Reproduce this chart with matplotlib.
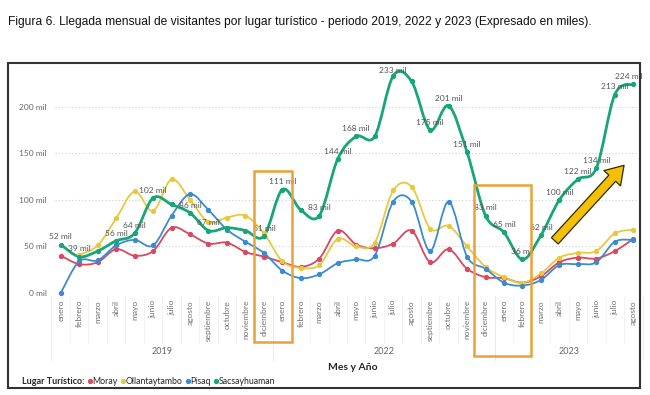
import numpy as np
import matplotlib.pyplot as plt
from matplotlib.path import Path
from matplotlib.patches import PathPatch, Rectangle, FancyArrowPatch
from matplotlib.lines import Line2D
import matplotlib.transforms as mtransforms

plt.rcParams['font.family'] = ['Lato', 'DejaVu Sans']

# datos (miles de visitantes)
meses = ["enero", "febrero", "marzo", "abril", "mayo", "junio", "julio",
         "agosto", "septiembre", "octubre", "noviembre", "diciembre"]
x_labels = meses + meses + meses[:8]
years = ["2019", "2022", "2023"]
year_len = [12, 12, 8]

moray = [40, 31, 33, 47, 40, 45, 70, 63, 53, 54, 44, 39,
         33, 28, 37, 67, 52, 48, 53, 67, 33, 47, 26, 17,
         16, 11, 18, 33, 38, 37, 45, 58]
ollantaytambo = [np.nan, 41, 51, 80, 109, 88, 122, 100, 76, 81, 83, 64,
                 34, 27, 30, 58, 50, 54, 110, 114, 69, 72, 50, 28,
                 17, 11, 21, 38, 43, 45, 64, 68]
pisaq = [0, 34, 35, 51, 57, 51, 83, 106, 89, 68, 55, 43,
         24, 16, 20, 32, 36, 40, 98, 98, 45, 98, 39, 26,
         11, 8, 14, 30, 31, 33, 55, 57]
sacsayhuaman = [52, 39, 45, 56, 64, 102, 95, 86, 67, 70, 67, 61,
                111, 89, 83, 144, 168, 168, 233, 227, 175, 201, 151, 83,
                65, 36, 62, 100, 122, 134, 213, 224]
labeled = [0, 1, 3, 4, 5, 7, 8, 11, 12, 14, 15, 16, 18, 20, 21, 22, 23,
           24, 25, 26, 27, 28, 29, 30, 31]

series = [("Moray", moray, "#D9485F", 1.3),
          ("Ollantaytambo", ollantaytambo, "#E8C840", 1.3),
          ("Pisaq", pisaq, "#3B8BD0", 1.3),
          ("Sacsayhuaman", sacsayhuaman, "#17A57A", 2.0)]


def smooth_path(xs, ys):
    pts = np.column_stack([xs, ys])
    n = len(pts)
    verts = [pts[0]]
    codes = [Path.MOVETO]
    for i in range(n - 1):
        p0 = pts[max(i - 1, 0)]
        p1 = pts[i]
        p2 = pts[i + 1]
        p3 = pts[min(i + 2, n - 1)]
        verts += [p1 + (p2 - p0) / 6, p2 - (p3 - p1) / 6, p2]
        codes += [Path.CURVE4] * 3
    return Path(verts, codes)


W, H = 650, 395
fig = plt.figure(figsize=(W / 100, H / 100), dpi=100)
ax_l, ax_r, ax_b, ax_t = 55, 637, 293, 74
ax = fig.add_axes([ax_l / W, 1 - ax_b / H, (ax_r - ax_l) / W, (ax_b - ax_t) / H])


def ay(py):
    # pixel row -> axes fraction
    return (ax_b - py) / (ax_b - ax_t)


x = np.arange(len(x_labels))
ax.set_xlim(-0.31, 31.2)
ax.set_ylim(0, 235)

for name, vals, col, lw in series:
    v = np.array(vals, dtype=float)
    ok = ~np.isnan(v)
    ax.add_patch(PathPatch(smooth_path(x[ok], v[ok]), fill=False, ec=col,
                           lw=lw, clip_on=False, zorder=3 if lw < 2 else 4))
    ax.plot(x[ok], v[ok], ls="none", marker="o", ms=2.8, color=col,
            clip_on=False, zorder=5)

for i in labeled:
    dy = 1 if i == 18 else 3
    dx = -3 if i == 31 else 0
    ax.annotate(f"{sacsayhuaman[i]} mil", (x[i], sacsayhuaman[i]),
                xytext=(dx, dy), textcoords="offset points", ha="center",
                va="bottom", fontsize=6, color="#555555", zorder=6,
                annotation_clip=False)

# ejes
for s in ax.spines.values():
    s.set_visible(False)
ax.set_yticks([0, 50, 100, 150, 200])
ax.set_yticklabels([f"{t} mil" for t in [0, 50, 100, 150, 200]])
ax.yaxis.grid(True, ls=(0, (1, 2)), color="#d0d0d0", lw=0.8)
ax.set_axisbelow(True)
ax.tick_params(axis="y", length=0, labelsize=6, labelcolor="#666666", pad=6)
ax.set_xticks(x)
ax.set_xticklabels(x_labels, rotation=90, fontsize=6, color="#707070")
ax.tick_params(axis="x", length=0, pad=5)

trans = mtransforms.blended_transform_factory(ax.transData, ax.transAxes)
for i in range(len(x) - 1):
    ax.plot([i + 0.5, i + 0.5], [ay(296), ay(343)], transform=trans,
            color="#f0f0f0", lw=0.6, clip_on=False)
start = 0
for yr, n in zip(years, year_len):
    ax.plot([start - 0.5, start - 0.5], [ay(296), ay(360)], transform=trans,
            color="#e8e8e8", lw=0.6, clip_on=False)
    ax.text(start + (n - 1) / 2, ay(352), yr, transform=trans, ha="center",
            va="center", fontsize=6.5, color="#666666")
    start += n
ax.plot([start - 0.5, start - 0.5], [ay(296), ay(360)], transform=trans,
        color="#e8e8e8", lw=0.6, clip_on=False)

fig.text(353 / W, 1 - 368 / H, "Mes y Año", ha="center", va="center",
         fontsize=7.5, fontweight="bold", color="#252525")

# recuadros naranjas y flecha
for x0, x1, y0, y1 in [(10.47, 12.52, -53, 131), (22.38, 25.46, -68, 116)]:
    ax.add_patch(Rectangle((x0, y0), x1 - x0, y1 - y0, fill=False,
                           ec="#E9A23B", lw=1.8, clip_on=False, zorder=7))
ax.add_patch(FancyArrowPatch((26.75, 56), (30.5, 137),
                             arrowstyle="simple,head_width=1.35,head_length=1.05,tail_width=0.55",
                             mutation_scale=12, fc="#F5C000", ec="#2e2a00",
                             lw=0.9, shrinkA=0, shrinkB=0, clip_on=False,
                             zorder=8))

# leyenda
fig.canvas.draw()
r = fig.canvas.get_renderer()
ly = 1 - 381 / H
t = fig.text(22 / W, ly, "Lugar Turístico:", ha="left", va="center",
             fontsize=6.5, fontweight="bold", color="#252525")
px = t.get_window_extent(r).x1 + 5
for name, vals, col, lw in series:
    fig.add_artist(Line2D([px / W], [ly], marker="o", ms=2.8, color=col,
                          transform=fig.transFigure))
    tt = fig.text((px + 3) / W, ly, name, ha="left", va="center",
                  fontsize=6.3, color="#252525")
    px = tt.get_window_extent(r).x1 + 5

# marco y título
fig.patches.append(Rectangle((8 / W, 1 - 388 / H), 632 / W, 325 / H,
                             fill=False, ec="#333333", lw=1.5,
                             transform=fig.transFigure))
title = fig.text(8 / W, 1 - 22 / H,
                 "Figura 6. Llegada mensual de visitantes por lugar turístico - periodo 2019, 2022 y 2023 (Expresado en miles).",
                 ha="left", va="center", fontsize=10,
                 family=["Liberation Sans", "DejaVu Sans"], color="#111111")
# ajustar el ancho del título al de la referencia (~587 px)
tw = title.get_window_extent(r).width
title.set_fontsize(10 * 587 / tw)

fig.savefig("out.png", dpi=100)
